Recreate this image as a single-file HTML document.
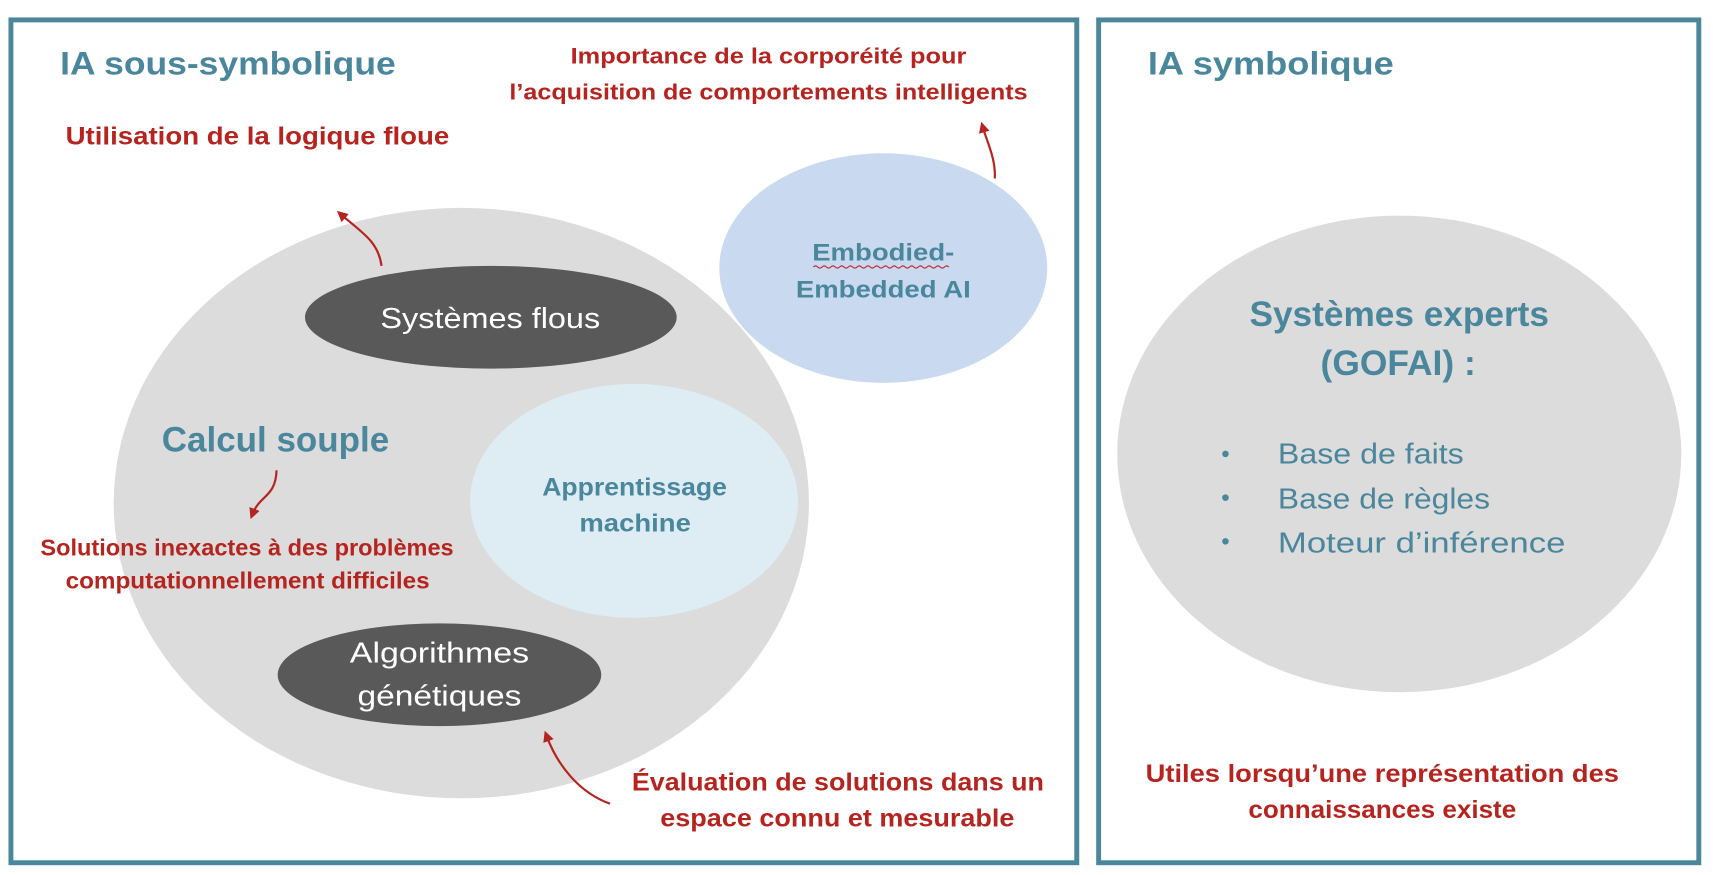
<!DOCTYPE html>
<html><head><meta charset="utf-8"><style>
html,body{margin:0;padding:0;background:#fff;}
svg{display:block;}
text{font-family:"Liberation Sans",sans-serif;}
.t{fill:#4a869c;font-weight:bold;}
.r{fill:#b5241f;font-weight:bold;}
.w{fill:#fff;}
</style></head><body>
<svg width="1713" height="875" viewBox="0 0 1567 800" xmlns="http://www.w3.org/2000/svg">
<defs>
<marker id="ah" markerWidth="10" markerHeight="10" refX="5" refY="5" orient="auto" markerUnits="userSpaceOnUse">
<path d="M0,0 L10,5 L0,10 z" fill="#b5241f"/>
</marker>
</defs>
<rect width="1567" height="800" fill="#fff"/>
<rect x="10" y="18" width="975" height="771" fill="none" stroke="#4a869c" stroke-width="4.5"/>
<rect x="1005" y="18" width="549" height="771" fill="none" stroke="#4a869c" stroke-width="4.5"/>

<ellipse cx="422" cy="460" rx="318" ry="270" fill="#dcdcdc"/>
<ellipse cx="449" cy="290" rx="170" ry="47" fill="#595959"/>
<ellipse cx="580" cy="458" rx="150" ry="107" fill="#deedf3"/>
<ellipse cx="402" cy="617" rx="148" ry="47" fill="#595959"/>
<ellipse cx="808" cy="245" rx="150" ry="105" fill="#c9daf0"/>
<ellipse cx="1280" cy="415" rx="258" ry="218" fill="#dcdcdc"/>

<g fill="none" stroke="#b5241f" stroke-width="2">
<path d="M349,243 C346,220 330,212 312,196" marker-end="url(#ah)"/>
<path d="M910,163 C911,145 903,130 899,116" marker-end="url(#ah)"/>
<path d="M253,430 C252,455 238,452 231,470" marker-end="url(#ah)"/>
<path d="M558,735 C530,725 510,700 500,673" marker-end="url(#ah)"/>
</g>

<text class="t" x="55" y="68" font-size="30" textLength="307" lengthAdjust="spacingAndGlyphs">IA sous-symbolique</text>
<text class="t" x="1050" y="68" font-size="30" textLength="225" lengthAdjust="spacingAndGlyphs">IA symbolique</text>
<text class="r" x="522" y="58" font-size="20" textLength="362" lengthAdjust="spacingAndGlyphs">Importance de la corporéité pour</text>
<text class="r" x="466" y="91" font-size="20" textLength="474" lengthAdjust="spacingAndGlyphs">l’acquisition de comportements intelligents</text>
<text class="r" x="60" y="132" font-size="23" textLength="351" lengthAdjust="spacingAndGlyphs">Utilisation de la logique floue</text>
<text class="w" x="348" y="300" font-size="26" textLength="201" lengthAdjust="spacingAndGlyphs">Systèmes flous</text>
<text class="t" x="743" y="238" font-size="22" textLength="130" lengthAdjust="spacingAndGlyphs">Embodied-</text>
<path d="M744,244 q2,-2 4,0 t4,0 t4,0 t4,0 t4,0 t4,0 t4,0 t4,0 t4,0 t4,0 t4,0 t4,0 t4,0 t4,0 t4,0 t4,0 t4,0 t4,0 t4,0 t4,0 t4,0 t4,0 t4,0 t4,0 t4,0 t4,0 t4,0 t4,0 t4,0 t4,0 t4,0" fill="none" stroke="#c0262a" stroke-width="1"/>
<text class="t" x="728" y="272" font-size="22" textLength="160" lengthAdjust="spacingAndGlyphs">Embedded AI</text>
<text class="t" x="148" y="413" font-size="32" textLength="208" lengthAdjust="spacingAndGlyphs">Calcul souple</text>
<text class="t" x="496" y="453" font-size="23" textLength="169" lengthAdjust="spacingAndGlyphs">Apprentissage</text>
<text class="t" x="530" y="486" font-size="23" textLength="102" lengthAdjust="spacingAndGlyphs">machine</text>
<text class="r" x="37" y="508" font-size="21" textLength="378" lengthAdjust="spacingAndGlyphs">Solutions inexactes à des problèmes</text>
<text class="r" x="60" y="538" font-size="21" textLength="333" lengthAdjust="spacingAndGlyphs">computationnellement difficiles</text>
<text class="w" x="320" y="606" font-size="26" textLength="164" lengthAdjust="spacingAndGlyphs">Algorithmes</text>
<text class="w" x="327" y="645" font-size="26" textLength="150" lengthAdjust="spacingAndGlyphs">génétiques</text>
<text class="r" x="578" y="723" font-size="23" textLength="377" lengthAdjust="spacingAndGlyphs">Évaluation de solutions dans un</text>
<text class="r" x="604" y="756" font-size="23" textLength="324" lengthAdjust="spacingAndGlyphs">espace connu et mesurable</text>
<text class="t" x="1143" y="298" font-size="32" textLength="274" lengthAdjust="spacingAndGlyphs">Systèmes experts</text>
<text class="t" x="1208" y="343" font-size="32" textLength="142" lengthAdjust="spacingAndGlyphs">(GOFAI) :</text>
<g fill="#4a869c">
<circle cx="1121" cy="415" r="3"/><circle cx="1121" cy="455" r="3"/><circle cx="1121" cy="495" r="3"/>
<text x="1169" y="424" font-size="26" textLength="170" lengthAdjust="spacingAndGlyphs">Base de faits</text>
<text x="1169" y="465" font-size="26" textLength="194" lengthAdjust="spacingAndGlyphs">Base de règles</text>
<text x="1169" y="505" font-size="26" textLength="263" lengthAdjust="spacingAndGlyphs">Moteur d’inférence</text>
</g>
<text class="r" x="1048" y="715" font-size="23" textLength="433" lengthAdjust="spacingAndGlyphs">Utiles lorsqu’une représentation des</text>
<text class="r" x="1142" y="748" font-size="23" textLength="245" lengthAdjust="spacingAndGlyphs">connaissances existe</text>
</svg>
</body></html>
